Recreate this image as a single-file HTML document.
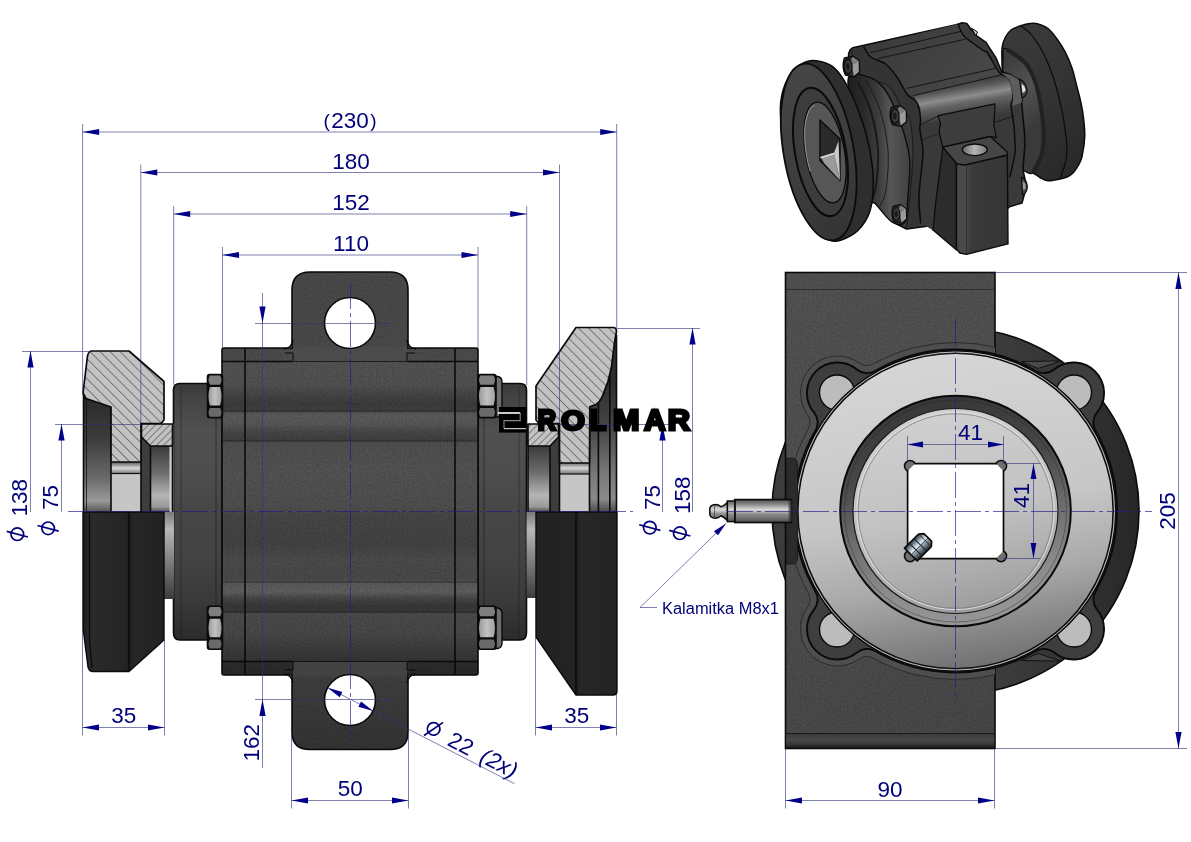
<!DOCTYPE html>
<html><head><meta charset="utf-8"><title>Drawing</title>
<style>
html,body{margin:0;padding:0;background:#fff;}
body{width:1191px;height:842px;overflow:hidden;font-family:"Liberation Sans",sans-serif;}
svg{display:block;opacity:0.9999;}
text{font-family:"Liberation Sans",sans-serif;}
.dt{font-size:22.5px;fill:#00007a;}
.dl{stroke:#30307c;stroke-width:1;fill:none;opacity:.62}
.ah{fill:#000088;stroke:none}
.cl{stroke:#1c1c8c;stroke-width:0.8;fill:none;opacity:.85;stroke-dasharray:26 4 4 4}
.ol{stroke:#0a0a0a;stroke-width:1.6;fill:none;stroke-linejoin:round}
.tl{stroke:#0a0a0a;stroke-width:1;fill:none}
</style></head><body>
<svg width="1191" height="842" viewBox="0 0 1191 842">
<defs>
<linearGradient id="gBody" gradientUnits="userSpaceOnUse" x1="0" y1="348" x2="0" y2="675"><stop offset="0.0" stop-color="#4c4c4c"/><stop offset="0.039755351681957186" stop-color="#4e4e4e"/><stop offset="0.04281345565749235" stop-color="#545454"/><stop offset="0.11314984709480122" stop-color="#525252"/><stop offset="0.1437308868501529" stop-color="#464646"/><stop offset="0.1712538226299694" stop-color="#3c3c3c"/><stop offset="0.18960244648318042" stop-color="#404040"/><stop offset="0.2018348623853211" stop-color="#5c5c5c"/><stop offset="0.2324159021406728" stop-color="#585858"/><stop offset="0.25688073394495414" stop-color="#484848"/><stop offset="0.28134556574923547" stop-color="#404040"/><stop offset="0.2874617737003058" stop-color="#505050"/><stop offset="0.3730886850152905" stop-color="#545454"/><stop offset="0.48623853211009177" stop-color="#505050"/><stop offset="0.5107033639143731" stop-color="#474747"/><stop offset="0.6024464831804281" stop-color="#444444"/><stop offset="0.6483180428134556" stop-color="#4c4c4c"/><stop offset="0.7064220183486238" stop-color="#4a4a4a"/><stop offset="0.7186544342507645" stop-color="#5a5a5a"/><stop offset="0.746177370030581" stop-color="#606060"/><stop offset="0.764525993883792" stop-color="#484848"/><stop offset="0.7889908256880734" stop-color="#383838"/><stop offset="0.8042813455657493" stop-color="#3a3a3a"/><stop offset="0.8134556574923547" stop-color="#4c4c4c"/><stop offset="0.8776758409785933" stop-color="#484848"/><stop offset="0.9235474006116208" stop-color="#3c3c3c"/><stop offset="0.9541284403669725" stop-color="#363636"/><stop offset="0.9587155963302753" stop-color="#2e2e2e"/><stop offset="1.0" stop-color="#292929"/></linearGradient>
<linearGradient id="gCap" gradientUnits="userSpaceOnUse" x1="0" y1="383" x2="0" y2="640"><stop offset="0.0" stop-color="#3a3a3a"/><stop offset="0.06614785992217899" stop-color="#444444"/><stop offset="0.1828793774319066" stop-color="#505050"/><stop offset="0.33852140077821014" stop-color="#4e4e4e"/><stop offset="0.5019455252918288" stop-color="#464646"/><stop offset="0.688715953307393" stop-color="#434343"/><stop offset="0.8443579766536965" stop-color="#3a3a3a"/><stop offset="1.0" stop-color="#2b2b2b"/></linearGradient>
<linearGradient id="gLug" gradientUnits="userSpaceOnUse" x1="0" y1="272" x2="0" y2="360"><stop offset="0" stop-color="#4a4a4a"/><stop offset="1" stop-color="#4b4b4b"/></linearGradient>
<linearGradient id="gLugB" gradientUnits="userSpaceOnUse" x1="0" y1="662" x2="0" y2="750"><stop offset="0" stop-color="#424242"/><stop offset="1" stop-color="#343434"/></linearGradient>
<linearGradient id="gWheelLowL" gradientUnits="userSpaceOnUse" x1="83" y1="0" x2="164" y2="0"><stop offset="0" stop-color="#1c1c1c"/><stop offset="0.08" stop-color="#2a2a2a"/><stop offset="0.5" stop-color="#252525"/><stop offset="0.57" stop-color="#1d1d1d"/><stop offset="0.62" stop-color="#262626"/><stop offset="1" stop-color="#222222"/></linearGradient>
<linearGradient id="gWheelLowR" gradientUnits="userSpaceOnUse" x1="536" y1="0" x2="617" y2="0"><stop offset="0" stop-color="#222222"/><stop offset="0.47" stop-color="#242424"/><stop offset="0.5" stop-color="#1b1b1b"/><stop offset="0.54" stop-color="#272727"/><stop offset="1" stop-color="#232323"/></linearGradient>
<linearGradient id="gInnerL" gradientUnits="userSpaceOnUse" x1="0" y1="399" x2="0" y2="512"><stop offset="0" stop-color="#2b2b2b"/><stop offset="0.35" stop-color="#3c3c3c"/><stop offset="0.7" stop-color="#6a6a6a"/><stop offset="0.9" stop-color="#9a9a9a"/><stop offset="1" stop-color="#555555"/></linearGradient>
<linearGradient id="gBush" gradientUnits="userSpaceOnUse" x1="0" y1="446" x2="0" y2="512"><stop offset="0" stop-color="#3a3a3a"/><stop offset="0.4" stop-color="#6c6c6c"/><stop offset="0.75" stop-color="#b5b5b5"/><stop offset="0.92" stop-color="#9a9a9a"/><stop offset="1" stop-color="#4a4a4a"/></linearGradient>
<linearGradient id="gGroove" gradientUnits="userSpaceOnUse" x1="0" y1="462" x2="0" y2="474"><stop offset="0" stop-color="#555555"/><stop offset="0.5" stop-color="#d8d8d8"/><stop offset="1" stop-color="#777777"/></linearGradient>
<linearGradient id="gShaftLow" gradientUnits="userSpaceOnUse" x1="0" y1="512" x2="0" y2="599"><stop offset="0" stop-color="#7a7a7a"/><stop offset="0.2" stop-color="#b8b8b8"/><stop offset="0.5" stop-color="#888888"/><stop offset="1" stop-color="#3a3a3a"/></linearGradient>
<linearGradient id="gNut" gradientUnits="objectBoundingBox" x1="0" y1="0" x2="1" y2="0"><stop offset="0" stop-color="#9a9a9a"/><stop offset="0.5" stop-color="#c2c2c2"/><stop offset="1" stop-color="#a0a0a0"/></linearGradient>
<linearGradient id="gNutV" gradientUnits="objectBoundingBox" x1="0" y1="0" x2="0" y2="1"><stop offset="0" stop-color="#7b7b7b"/><stop offset="0.25" stop-color="#8a8a8a"/><stop offset="0.5" stop-color="#b4b4b4"/><stop offset="0.8" stop-color="#8a8a8a"/><stop offset="1" stop-color="#666666"/></linearGradient>
<pattern id="hatchA" patternUnits="userSpaceOnUse" width="7.1" height="7.1" patternTransform="rotate(45)"><rect width="7.1" height="7.1" fill="#c2c2c2"/><line x1="0" y1="0" x2="7.1" y2="0" stroke="#1a1a1a" stroke-width="0.9"/></pattern>
<pattern id="hatchB" patternUnits="userSpaceOnUse" width="5" height="5" patternTransform="rotate(-45)"><rect width="5" height="5" fill="#c2c2c2"/><line x1="0" y1="0" x2="5" y2="0" stroke="#1a1a1a" stroke-width="0.9"/></pattern>
<filter id="grain" x="0" y="0" width="100%" height="100%"><feTurbulence type="fractalNoise" baseFrequency="0.55" numOctaves="2" seed="3" result="n"/><feColorMatrix in="n" type="matrix" values="0 0 0 0 0  0 0 0 0 0  0 0 0 0 0  0.5 0.5 0 0 -0.38" result="a"/><feComposite in="a" in2="SourceGraphic" operator="in"/></filter>
<linearGradient id="gInnerR" gradientUnits="userSpaceOnUse" x1="0" y1="380" x2="0" y2="512"><stop offset="0" stop-color="#2e2e2e"/><stop offset="0.35" stop-color="#444444"/><stop offset="0.7" stop-color="#777777"/><stop offset="0.9" stop-color="#8a8a8a"/><stop offset="1" stop-color="#4a4a4a"/></linearGradient>
<linearGradient id="gPlate" gradientUnits="userSpaceOnUse" x1="786" y1="272" x2="996" y2="749"><stop offset="0" stop-color="#545454"/><stop offset="0.5" stop-color="#505050"/><stop offset="1" stop-color="#484848"/></linearGradient>
<linearGradient id="gRing" gradientUnits="userSpaceOnUse" x1="930" y1="353" x2="982" y2="668"><stop offset="0" stop-color="#d6d6d6"/><stop offset="0.5" stop-color="#c6c6c6"/><stop offset="0.72" stop-color="#aaaaaa"/><stop offset="0.88" stop-color="#888888"/><stop offset="1" stop-color="#707070"/></linearGradient>
<linearGradient id="gDisc" gradientUnits="userSpaceOnUse" x1="930" y1="410" x2="975" y2="615"><stop offset="0" stop-color="#d0d0d0"/><stop offset="0.5" stop-color="#c2c2c2"/><stop offset="0.8" stop-color="#acacac"/><stop offset="1" stop-color="#9a9a9a"/></linearGradient>
<linearGradient id="gBand" gradientUnits="userSpaceOnUse" x1="935" y1="395" x2="978" y2="627"><stop offset="0" stop-color="#363636"/><stop offset="0.3" stop-color="#474747"/><stop offset="0.55" stop-color="#6c6c6c"/><stop offset="0.8" stop-color="#8c8c8c"/><stop offset="1" stop-color="#979797"/></linearGradient>
<linearGradient id="gBigWheel" gradientUnits="userSpaceOnUse" x1="996" y1="0" x2="1140" y2="0"><stop offset="0" stop-color="#3c3c3c"/><stop offset="0.6" stop-color="#323232"/><stop offset="1" stop-color="#262626"/></linearGradient>
<linearGradient id="gNipple" gradientUnits="userSpaceOnUse" x1="0" y1="500" x2="0" y2="522.5"><stop offset="0" stop-color="#555555"/><stop offset="0.2" stop-color="#8a8a8a"/><stop offset="0.42" stop-color="#d6d6d6"/><stop offset="0.5" stop-color="#c0c0c0"/><stop offset="0.62" stop-color="#8e8e8e"/><stop offset="0.85" stop-color="#6a6a6a"/><stop offset="1" stop-color="#484848"/></linearGradient>
<linearGradient id="gStrip" gradientUnits="userSpaceOnUse" x1="0" y1="733.5" x2="0" y2="748.5"><stop offset="0" stop-color="#3a3a3a"/><stop offset="0.45" stop-color="#484848"/><stop offset="0.75" stop-color="#333333"/><stop offset="1" stop-color="#141414"/></linearGradient>
<linearGradient id="gScrew" gradientUnits="objectBoundingBox" x1="0" y1="0" x2="0" y2="1"><stop offset="0" stop-color="#2c3238"/><stop offset="0.2" stop-color="#7f8d99"/><stop offset="0.42" stop-color="#dfe8ef"/><stop offset="0.6" stop-color="#93a3b0"/><stop offset="0.85" stop-color="#4a545d"/><stop offset="1" stop-color="#22272c"/></linearGradient>
<linearGradient id="iBW" gradientUnits="userSpaceOnUse" x1="1000" y1="40" x2="1085" y2="150"><stop offset="0" stop-color="#3a3a3a"/><stop offset="0.5" stop-color="#343434"/><stop offset="1" stop-color="#2a2a2a"/></linearGradient>
<linearGradient id="iTop" gradientUnits="userSpaceOnUse" x1="870" y1="30" x2="960" y2="110"><stop offset="0" stop-color="#3a3a3a"/><stop offset="0.6" stop-color="#424242"/><stop offset="1" stop-color="#484848"/></linearGradient>
<linearGradient id="iSide" gradientUnits="userSpaceOnUse" x1="957" y1="84.6" x2="963" y2="120"><stop offset="0" stop-color="#444444"/><stop offset="0.15" stop-color="#5c5c5c"/><stop offset="0.37" stop-color="#8c8c8c"/><stop offset="0.55" stop-color="#646464"/><stop offset="0.8" stop-color="#4a4a4a"/><stop offset="1" stop-color="#3c3c3c"/></linearGradient>
<linearGradient id="iHub" gradientUnits="userSpaceOnUse" x1="850" y1="0" x2="915" y2="0"><stop offset="0" stop-color="#1f1f1f"/><stop offset="0.25" stop-color="#2c2c2c"/><stop offset="0.45" stop-color="#3e3e3e"/><stop offset="0.62" stop-color="#565656"/><stop offset="0.8" stop-color="#4a4a4a"/><stop offset="1" stop-color="#3a3a3a"/></linearGradient>
<linearGradient id="iFace" gradientUnits="userSpaceOnUse" x1="785" y1="80" x2="860" y2="230"><stop offset="0" stop-color="#454545"/><stop offset="0.5" stop-color="#3e3e3e"/><stop offset="1" stop-color="#333333"/></linearGradient>
<linearGradient id="iBlockF" gradientUnits="userSpaceOnUse" x1="966" y1="0" x2="1008" y2="0"><stop offset="0" stop-color="#4a4a4a"/><stop offset="0.12" stop-color="#3a3a3a"/><stop offset="1" stop-color="#353535"/></linearGradient>
<linearGradient id="iHole" gradientUnits="userSpaceOnUse" x1="962" y1="0" x2="987" y2="0"><stop offset="0" stop-color="#6a6a6a"/><stop offset="0.5" stop-color="#b5b5b5"/><stop offset="1" stop-color="#7a7a7a"/></linearGradient>
<linearGradient id="iBHub" gradientUnits="userSpaceOnUse" x1="1000" y1="60" x2="1045" y2="120"><stop offset="0" stop-color="#3c3c3c"/><stop offset="0.5" stop-color="#525252"/><stop offset="1" stop-color="#3a3a3a"/></linearGradient>

</defs>
<rect width="1191" height="842" fill="#ffffff"/>
<g id="main">
<path d="M292,349 L292,290 Q292,272 310,272 L390,272 Q408,272 408,290 L408,349 L408,362 L292,362 Z" fill="url(#gLug)" class="" stroke="#0a0a0a" stroke-width="1.6"/>
<path d="M292,674 L292,732 Q292,749.5 310,749.5 L390,749.5 Q408,749.5 408,732 L408,674 L408,660 L292,660 Z" fill="url(#gLugB)" class="" stroke="#0a0a0a" stroke-width="1.6"/>
<clipPath id="clipLugs"><path d="M292,349 L292,290 Q292,272 310,272 L390,272 Q408,272 408,290 L408,349 Z"/><path d="M292,674 L292,732 Q292,749.5 310,749.5 L390,749.5 Q408,749.5 408,732 L408,674 Z"/></clipPath>
<rect x="290" y="270" width="120" height="482" fill="#000" filter="url(#grain)" opacity=".4" clip-path="url(#clipLugs)"/>
<path d="M222,383.5 L180,383.5 Q173.5,383.5 173.5,390 L173.5,633 Q173.5,640 180,640 L222,640 Z" fill="url(#gCap)" stroke="#0a0a0a" stroke-width="1.6"/>
<path d="M478,383.5 L520,383.5 Q526.5,383.5 526.5,390 L526.5,633 Q526.5,640 520,640 L478,640 Z" fill="url(#gCap)" stroke="#0a0a0a" stroke-width="1.6"/>
<line x1="181" y1="386" x2="181" y2="638" stroke="#111" stroke-width="1" opacity="0.35"/>
<line x1="216" y1="386" x2="216" y2="638" stroke="#111" stroke-width="1" opacity="0.5"/>
<line x1="519" y1="386" x2="519" y2="638" stroke="#111" stroke-width="1" opacity="0.35"/>
<line x1="484" y1="386" x2="484" y2="638" stroke="#111" stroke-width="1" opacity="0.5"/>
<rect x="222" y="348" width="256" height="327" rx="2" fill="url(#gBody)" stroke="#0a0a0a" stroke-width="1.6"/>
<rect x="222" y="348" width="256" height="327" fill="#000" filter="url(#grain)" opacity=".45"/>
<path d="M293,346.5 L407,346.5 L407,361 L293,361 Z" fill="#4b4b4b"/>
<path d="M293,662 L407,662 L407,676.5 L293,676.5 Z" fill="#424242"/>
<path class="ol" d="M222,361.5 L292,361.5 M408,361.5 L478,361.5"/>
<path class="tl" d="M292,361.5 L408,361.5" opacity=".7"/>
<path class="ol" d="M222,661.5 L292,661.5 M408,661.5 L478,661.5"/>
<path class="tl" d="M292,661.5 L408,661.5" opacity=".7"/>
<path class="ol" d="M284,349 Q292,348 293,340 M416,349 Q408,348 407,340" stroke-width="1.3"/>
<path class="tl" d="M285,353 L293,353 L293,361 M415,353 L407,353 L407,361"/>
<path class="ol" d="M284,674 Q292,675 293,683 M416,674 Q408,675 407,683" stroke-width="1.3"/>
<path class="tl" d="M285,670 L293,670 L293,662 M415,670 L407,670 L407,662"/>
<path class="ol" d="M245,348 L245,675 M455,348 L455,675" stroke-width="1.8"/>
<line x1="222" y1="411" x2="478" y2="411" stroke="#111" stroke-width="0.9" opacity=".6"/>
<line x1="222" y1="441" x2="478" y2="441" stroke="#111" stroke-width="0.9" opacity=".6"/>
<line x1="222" y1="582" x2="478" y2="582" stroke="#111" stroke-width="0.9" opacity=".6"/>
<line x1="222" y1="612" x2="478" y2="612" stroke="#111" stroke-width="0.9" opacity=".6"/>
<circle cx="350" cy="323" r="25.5" fill="#fff" stroke="#0a0a0a" stroke-width="1.6"/>
<circle cx="350" cy="700" r="25.5" fill="#fff" stroke="#0a0a0a" stroke-width="1.6"/>
<path d="M495,376.5 L498,376.5 Q502,377.5 502,382 L502,412 Q502,416 498,417 L495,417 Z" fill="#6e6e6e" stroke="#0a0a0a" stroke-width="1.4"/>
<path d="M495,608 L498,608 Q502,609 502,613.5 L502,643 Q502,647.5 498,648.5 L495,648.5 Z" fill="#6e6e6e" stroke="#0a0a0a" stroke-width="1.4"/>
<rect x="206.7" y="373.8" width="16.6" height="44.6" rx="3" fill="#0a0a0a"/>
<path d="M209.9,375.4 L220.1,375.4 Q222.9,380.1 220.1,384.7 L209.9,384.7 Q207.1,380.1 209.9,375.4 Z" fill="#7e7e7e"/>
<path d="M209.9,387.1 L220.1,387.1 Q222.9,396.3 220.1,405.6 L209.9,405.6 Q207.1,396.3 209.9,387.1 Z" fill="url(#gNut)"/>
<path d="M209.9,407.9 L220.1,407.9 Q222.9,412.4 220.1,416.8 L209.9,416.8 Q207.1,412.4 209.9,407.9 Z" fill="#6a6a6a"/>
<rect x="477.2" y="373.8" width="19.6" height="44.6" rx="3" fill="#0a0a0a"/>
<path d="M480.4,375.4 L493.6,375.4 Q496.4,380.1 493.6,384.7 L480.4,384.7 Q477.6,380.1 480.4,375.4 Z" fill="#7e7e7e"/>
<path d="M480.4,387.1 L493.6,387.1 Q496.4,396.3 493.6,405.6 L480.4,405.6 Q477.6,396.3 480.4,387.1 Z" fill="url(#gNut)"/>
<path d="M480.4,407.9 L493.6,407.9 Q496.4,412.4 493.6,416.8 L480.4,416.8 Q477.6,412.4 480.4,407.9 Z" fill="#6a6a6a"/>
<rect x="206.7" y="605.4000000000001" width="16.6" height="44.6" rx="3" fill="#0a0a0a"/>
<path d="M209.9,607.0 L220.1,607.0 Q222.9,611.7 220.1,616.3 L209.9,616.3 Q207.1,611.7 209.9,607.0 Z" fill="#7e7e7e"/>
<path d="M209.9,618.7 L220.1,618.7 Q222.9,627.9 220.1,637.2 L209.9,637.2 Q207.1,627.9 209.9,618.7 Z" fill="url(#gNut)"/>
<path d="M209.9,639.5 L220.1,639.5 Q222.9,644.0 220.1,648.4 L209.9,648.4 Q207.1,644.0 209.9,639.5 Z" fill="#6a6a6a"/>
<rect x="477.2" y="605.4000000000001" width="19.6" height="44.6" rx="3" fill="#0a0a0a"/>
<path d="M480.4,607.0 L493.6,607.0 Q496.4,611.7 493.6,616.3 L480.4,616.3 Q477.6,611.7 480.4,607.0 Z" fill="#7e7e7e"/>
<path d="M480.4,618.7 L493.6,618.7 Q496.4,627.9 493.6,637.2 L480.4,637.2 Q477.6,627.9 480.4,618.7 Z" fill="url(#gNut)"/>
<path d="M480.4,639.5 L493.6,639.5 Q496.4,644.0 493.6,648.4 L480.4,648.4 Q477.6,644.0 480.4,639.5 Z" fill="#6a6a6a"/>
<rect x="83" y="397" width="29" height="115" fill="url(#gInnerL)"/>
<rect x="111" y="462" width="30" height="50" fill="#c6c6c6"/>
<rect x="111" y="462" width="30" height="11.5" fill="url(#gGroove)"/>
<line x1="111" y1="473.5" x2="141" y2="473.5" stroke="#111" stroke-width="1.2"/>
<rect x="141" y="438" width="9.5" height="74" fill="#3d3d3d"/>
<rect x="150" y="446" width="22.5" height="66" fill="url(#gBush)"/>
<rect x="169.5" y="424" width="4" height="88" fill="#d0d0d0"/>
<path class="ol" d="M83.5,395 L83.5,512 M111,407 L111,512 M141,424 L141,512 M150.5,446 L150.5,512 M172.5,424 L172.5,512" />
<line x1="86.5" y1="400" x2="86.5" y2="512" stroke="#111" stroke-width="1" opacity=".8"/>
<path d="M92,351 L129,351 L164,381.5 L164,420 L161,423.5 L141,423.5 L141,462 L111,462 L111,407 L86,398.5 L83,393 L87.5,356 Q88.5,351 92,351 Z" fill="url(#hatchA)" stroke="#0a0a0a" stroke-width="1.7" stroke-linejoin="round"/>
<path d="M143,424 L172.5,424 L172.5,446 L150.5,446 L141.5,437 L141.5,425.5 Q141.5,424 143,424 Z" fill="url(#hatchB)" stroke="#0a0a0a" stroke-width="1.6" stroke-linejoin="round"/>
<rect x="164" y="512" width="10" height="87" fill="url(#gShaftLow)"/>
<path d="M83,512 L164,512 L164,640 L129,671.5 L93,671.5 Q89,671.5 88,667 L83,628 Z" fill="url(#gWheelLowL)" stroke="#0a0a0a" stroke-width="1.4" stroke-linejoin="round"/>
<path d="M129,512 L129,671 M89.5,512 L89.5,640 L92,668" stroke="#0a0a0a" stroke-width="1.3" fill="none"/>
<path d="M589.5,407 L602,397 L608,381.8 L611.4,367.5 L614.3,344 L616.5,331 L617,512 L589.5,512 Z" fill="url(#gInnerR)"/>
<rect x="559.5" y="463" width="29.5" height="49" fill="#c6c6c6"/>
<rect x="559.5" y="463" width="29.5" height="11" fill="url(#gGroove)"/>
<line x1="559.5" y1="474" x2="589" y2="474" stroke="#111" stroke-width="1.2"/>
<rect x="550" y="438" width="9.5" height="74" fill="#3d3d3d"/>
<rect x="528" y="446" width="22" height="66" fill="url(#gBush)"/>
<path class="ol" d="M616.5,335 L616.5,512 M589.5,408 L589.5,512 M559.5,424 L559.5,512 M550,446 L550,512 M528,424 L528,512 M598.4,403.5 L598.4,512 M609.8,375 L609.8,512" />
<path d="M576,327.5 L613,327.5 Q616.5,327.5 616.5,331 L614.3,344 L611.4,367.5 L607.9,381.8 L602,397.2 Q600,402 596,404.5 L589.8,406.8 L589.5,463 L559.5,463 L559.5,423.5 L539,423.5 L536,420 L536,386 Z" fill="url(#hatchA)" stroke="#0a0a0a" stroke-width="1.7" stroke-linejoin="round"/>
<path d="M557,424 L528,424 L528,446 L550,446 L558.5,437 L558.5,425.5 Q558.5,424 557,424 Z" fill="url(#hatchB)" stroke="#0a0a0a" stroke-width="1.6" stroke-linejoin="round"/>
<rect x="526.5" y="512" width="10" height="86" fill="url(#gShaftLow)"/>
<path d="M536,512 L617,512 L617,691 Q617,695 613,695 L576,695 L536,637 Z" fill="url(#gWheelLowR)" stroke="#0a0a0a" stroke-width="1.4" stroke-linejoin="round"/>
<path d="M576,512 L576,695" stroke="#0a0a0a" stroke-width="1.3" fill="none"/>
</g>

<g id="side">
<circle cx="955.5" cy="511.0" r="183.5" fill="url(#gBigWheel)" stroke="#0a0a0a" stroke-width="1.6"/>
<rect x="785.5" y="272.5" width="209.5" height="476" fill="url(#gPlate)" stroke="#0a0a0a" stroke-width="1.6"/>
<rect x="785.5" y="272.5" width="209.5" height="476" fill="#000" filter="url(#grain)" opacity=".45"/>
<rect x="786.3" y="273.3" width="207.9" height="16" fill="#444" opacity=".2"/>
<line x1="786" y1="289.5" x2="995" y2="289.5" stroke="#222" stroke-width="1" opacity=".7"/>
<rect x="786.3" y="733.5" width="207.9" height="14.6" fill="url(#gStrip)"/>
<line x1="786" y1="733.5" x2="995" y2="733.5" stroke="#111" stroke-width="1" opacity=".8"/>
<clipPath id="clipPlate"><rect x="785.5" y="272.5" width="209.5" height="476"/></clipPath>
<path d="M1102.86,592.71 A14.00,14.00 0 0 0 1103.68,607.60 A37.00,37.00 0 0 1 1052.10,659.18 A14.00,14.00 0 0 0 1037.21,658.36 A168.50,168.50 0 0 1 873.79,658.36 A14.00,14.00 0 0 0 858.90,659.18 A37.00,37.00 0 0 1 807.32,607.60 A14.00,14.00 0 0 0 808.14,592.71 A168.50,168.50 0 0 1 808.14,429.29 A14.00,14.00 0 0 0 807.32,414.40 A37.00,37.00 0 0 1 858.90,362.82 A14.00,14.00 0 0 0 873.79,363.64 A168.50,168.50 0 0 1 1037.21,363.64 A14.00,14.00 0 0 0 1052.10,362.82 A37.00,37.00 0 0 1 1103.68,414.40 A14.00,14.00 0 0 0 1102.86,429.29 A168.50,168.50 0 0 1 1102.86,592.71 Z" fill="#4e4e4e" stroke="#2c2c2c" stroke-width="1" clip-path="url(#clipPlate)"/>
<path d="M1021.6,361.6 L1061.5,360.8 L1038,368.5 Z" fill="#4a4a4a" stroke="#111" stroke-width="1"/>
<path d="M1021.6,660.4 L1061.5,661.2 L1038,653.5 Z" fill="#444" stroke="#111" stroke-width="1"/>
<path d="M1095.52,591.47 A16.00,16.00 0 0 0 1097.05,609.61 A30.50,30.50 0 0 1 1054.11,652.55 A16.00,16.00 0 0 0 1035.97,651.02 A161.50,161.50 0 0 1 875.03,651.02 A16.00,16.00 0 0 0 856.89,652.55 A30.50,30.50 0 0 1 813.95,609.61 A16.00,16.00 0 0 0 815.48,591.47 A161.50,161.50 0 0 1 815.48,430.53 A16.00,16.00 0 0 0 813.95,412.39 A30.50,30.50 0 0 1 856.89,369.45 A16.00,16.00 0 0 0 875.03,370.98 A161.50,161.50 0 0 1 1035.97,370.98 A16.00,16.00 0 0 0 1054.11,369.45 A30.50,30.50 0 0 1 1097.05,412.39 A16.00,16.00 0 0 0 1095.52,430.53 A161.50,161.50 0 0 1 1095.52,591.47 Z" fill="#3e3e3e" stroke="#0a0a0a" stroke-width="1.9"/>
<circle cx="837.0" cy="392.5" r="17.5" fill="#bcbcbc" stroke="#0a0a0a" stroke-width="1.4"/>
<circle cx="837.0" cy="629.5" r="17.5" fill="#bcbcbc" stroke="#0a0a0a" stroke-width="1.4"/>
<circle cx="1074.0" cy="392.5" r="17.5" fill="#bcbcbc" stroke="#0a0a0a" stroke-width="1.4"/>
<circle cx="1074.0" cy="629.5" r="17.5" fill="#bcbcbc" stroke="#0a0a0a" stroke-width="1.4"/>
<circle cx="955.5" cy="511.0" r="160" fill="#2a2a2a" stroke="#0a0a0a" stroke-width="1.5"/>
<circle cx="955.5" cy="511.0" r="157.5" fill="url(#gRing)" stroke="#0a0a0a" stroke-width="1.2"/>
<circle cx="955.5" cy="511.0" r="159" fill="none" stroke="#e8e8e8" stroke-width="0.8"/>
<circle cx="955.5" cy="511.0" r="115.3" fill="url(#gBand)" stroke="#0a0a0a" stroke-width="2"/>
<circle cx="955.5" cy="511.0" r="111" fill="none" stroke="#222" stroke-width="0.8" opacity=".5"/>
<circle cx="955.5" cy="511.0" r="102.5" fill="url(#gDisc)" stroke="#1a1a1a" stroke-width="1.2"/>
<circle cx="955.5" cy="511.0" r="98.6" fill="none" stroke="#e4e4e4" stroke-width="0.9"/>
<circle cx="955.5" cy="511.0" r="97.3" fill="none" stroke="#777" stroke-width="0.7"/>
<circle cx="910.1" cy="466.1" r="5.6" fill="#707070" stroke="#0a0a0a" stroke-width="1.5"/>
<circle cx="1001.0" cy="466.1" r="5.6" fill="#707070" stroke="#0a0a0a" stroke-width="1.5"/>
<circle cx="910.1" cy="556.1" r="5.6" fill="#707070" stroke="#0a0a0a" stroke-width="1.5"/>
<circle cx="1001.0" cy="556.1" r="5.6" fill="#707070" stroke="#0a0a0a" stroke-width="1.5"/>
<path d="M915.1,463.6 L996.0,463.6 L1003.5,471.1 L1003.5,551.1 L996.0,558.6 L915.1,558.6 L907.6,551.1 L907.6,471.1 Z" fill="#fff" stroke="none"/>
<path d="M914.1,463.6 L997.0,463.6 M1003.5,470.1 L1003.5,552.1 M997.0,558.6 L914.1,558.6 M907.6,552.1 L907.6,470.1" stroke="#0a0a0a" stroke-width="1.7" fill="none"/>
<g transform="translate(919.3,546) rotate(-45)"><path d="M-12,-9 L8,-9 L12,-5.5 L12,5.5 L8,9 L-12,9 Z" fill="url(#gScrew)" stroke="#0a0a0a" stroke-width="1.6" stroke-linejoin="round"/><line x1="-5" y1="-8.5" x2="-5" y2="8.5" stroke="#1e2226" stroke-width="1"/><line x1="1.5" y1="-8.5" x2="1.5" y2="8.5" stroke="#1e2226" stroke-width="1"/><line x1="8" y1="-8.5" x2="8" y2="8.5" stroke="#1e2226" stroke-width="0.9"/><line x1="-12" y1="0.5" x2="12" y2="0.5" stroke="#39424a" stroke-width="0.8"/></g>
<path d="M786.8,458 L793,458 Q797.5,459 797.5,464 L797.5,558 Q797.5,563 793,564 L786.8,564 Z" fill="#2b2b2b" stroke="#161616" stroke-width="0.8"/>
<rect x="734.8" y="499.6" width="56.5" height="22.9" fill="url(#gNipple)" stroke="#0a0a0a" stroke-width="1.7"/>
<rect x="788.5" y="500.4" width="3.5" height="21.3" fill="#333" opacity=".6"/>
<rect x="727.3" y="501" width="7.5" height="20.6" fill="url(#gNipple)" stroke="#0a0a0a" stroke-width="1.5"/>
<path d="M727.3,502.5 Q724,506 721,506.8 Q718.5,504.6 715.5,504.6 Q710,505 709.8,509 L709.8,514 Q710,518 715.5,518.2 Q718.5,518.2 721,515.8 Q724,517 727.3,520.5 Z" fill="url(#gNipple)" stroke="#0a0a0a" stroke-width="1.5" stroke-linejoin="round"/>
<line x1="714.5" y1="505" x2="714.5" y2="518" stroke="#333" stroke-width="0.9" opacity=".7"/>
</g>

<g id="iso">
<path d="M1002.0,62.0 C1001.9,54.8 1001.6,51.2 1002.2,47.0 C1002.8,42.8 1004.0,39.8 1005.5,37.0 C1007.0,34.2 1008.3,31.9 1011.0,30.0 C1013.7,28.1 1018.5,26.5 1021.7,25.4 C1024.9,24.3 1027.5,23.8 1030.0,23.5 C1032.5,23.2 1034.0,22.8 1037.0,23.6 C1040.0,24.4 1044.7,25.9 1048.0,28.5 C1051.3,31.1 1054.2,35.1 1057.0,39.0 C1059.8,42.9 1062.5,46.9 1065.0,51.7 C1067.5,56.5 1070.0,62.1 1072.0,68.0 C1074.0,73.9 1075.5,81.2 1077.0,87.0 C1078.5,92.8 1079.9,97.8 1081.0,103.0 C1082.1,108.2 1082.9,112.4 1083.5,118.0 C1084.1,123.6 1085.0,130.2 1084.7,136.6 C1084.5,143.0 1083.1,151.7 1082.0,156.6 C1080.9,161.5 1079.5,163.3 1078.0,166.0 C1076.5,168.7 1074.8,171.2 1073.0,173.0 C1071.2,174.8 1069.2,176.0 1067.0,177.0 C1064.8,178.0 1063.0,178.4 1059.8,179.0 C1056.6,179.6 1051.3,180.9 1048.0,180.7 C1044.7,180.4 1042.5,178.8 1040.0,177.5 C1037.5,176.2 1035.8,174.2 1033.0,173.0 C1030.2,171.8 1026.8,171.3 1023.0,170.0 C1019.2,168.7 1013.2,171.7 1010.0,165.0 C1006.8,158.3 1005.2,142.5 1004.0,130.0 C1002.8,117.5 1003.3,101.3 1003.0,90.0 C1002.7,78.7 1002.1,69.2 1002.0,62.0 Z" fill="url(#iBW)" stroke="#0a0a0a" stroke-width="1.5" stroke-linejoin="round" stroke-linecap="round" />
<path d="M1021.7,26.2 C1023.5,27.8 1028.4,30.5 1032.5,36.0 C1036.6,41.5 1042.0,49.3 1046.4,59.4 C1050.8,69.5 1055.5,83.0 1058.8,96.4 C1062.1,109.8 1065.3,129.4 1066.5,140.0 C1067.7,150.6 1067.1,153.5 1066.0,160.0 C1064.9,166.5 1061.0,175.8 1060.0,179.0" fill="none" stroke="#0a0a0a" stroke-width="1.2" stroke-linejoin="round" stroke-linecap="round" />
<path d="M1003.0,58.0 C1003.2,47.8 1001.9,48.0 1005.5,48.5 C1009.1,49.0 1019.8,55.1 1024.8,61.0 C1029.8,66.9 1032.6,74.5 1035.6,84.0 C1038.6,93.5 1041.5,108.7 1043.0,118.0 C1044.5,127.3 1044.7,133.7 1044.5,140.0 C1044.3,146.3 1043.9,150.5 1042.0,156.0 C1040.1,161.5 1036.2,170.7 1033.0,173.0 C1029.8,175.3 1026.5,171.8 1023.0,170.0 C1019.5,168.2 1015.2,172.0 1012.0,162.0 C1008.8,152.0 1005.5,127.3 1004.0,110.0 C1002.5,92.7 1002.8,68.2 1003.0,58.0 Z" fill="url(#iBHub)" stroke="#0a0a0a" stroke-width="1.2" stroke-linejoin="round" stroke-linecap="round" />
<path d="M1008.0,50.0 C1011.0,52.3 1021.2,58.0 1026.0,64.0 C1030.8,70.0 1033.8,77.0 1036.5,86.0 C1039.2,95.0 1041.3,109.0 1042.5,118.0 C1043.7,127.0 1043.8,133.7 1043.5,140.0 C1043.2,146.3 1042.7,150.8 1041.0,156.0 C1039.3,161.2 1034.8,168.5 1033.5,171.0" fill="none" stroke="#222222" stroke-width="4" stroke-linejoin="round" stroke-linecap="round" />
<path d="M848.5,54.0 L850.0,50.0 L852.8,47.7 L958.2,24.2 L962.0,22.8 L966.8,23.5 L971.6,30.0 L977.0,36.0 L986.0,42.4 L996.0,57.8 L1001.7,71.7 L1011.0,74.8 L1018.6,79.4 L1024.8,87.0 L1023.0,96.0 L1021.7,102.6 L1023.0,118.0 L1024.5,133.0 L1024.8,145.0 L1023.0,170.0 L1026.5,186.5 L1022.0,203.0 L1010.0,206.5 L1000.0,215.0 L960.0,235.0 L933.0,230.0 L930.7,225.7 L906.5,229.0 L891.6,221.5 L875.8,204.0 L870.0,190.0 L860.0,120.0 L850.0,80.0 Z" fill="#3a3a3a" stroke="#0a0a0a" stroke-width="1.5" stroke-linejoin="round" stroke-linecap="round" />
<path d="M864.0,47.0 L958.0,24.0 L961.0,31.0 L965.0,37.0 L982.5,50.0 L1000.0,72.7 L1009.0,79.4 L1001.7,74.8 L914.0,95.5 L907.0,94.0 L897.0,77.0 L885.6,64.0 L870.6,57.0 Z" fill="url(#iTop)" stroke="none" stroke-width="1.3" stroke-linejoin="round" stroke-linecap="round" />
<path d="M914.0,95.5 L1001.7,74.8 L1009.0,79.4 L1013.0,96.4 L1011.0,105.7 L1014.0,125.7 L1014.8,140.0 L1015.0,153.0 L1010.0,176.5 L1008.0,206.0 L933.0,230.0 L920.7,223.0 L919.0,195.0 L923.0,153.0 L919.9,120.0 L920.5,108.0 L917.0,102.6 Z" fill="url(#iSide)" stroke="none" stroke-width="1.3" stroke-linejoin="round" stroke-linecap="round" />
<path d="M919.9,124.0 L1014.0,112.0 L1015.0,153.0 L1010.0,176.5 L1008.0,206.0 L933.0,230.0 L920.7,223.0 L919.0,195.0 L923.0,153.0 Z" fill="#393939" stroke="none" stroke-width="1.3" stroke-linejoin="round" stroke-linecap="round" />
<path d="M920.0,125.0 L938.0,116.3" fill="none" stroke="#1a1a1a" stroke-width="1.0" stroke-linejoin="round" stroke-linecap="round" />
<path d="M995.0,122.3 L1014.0,116.0" fill="none" stroke="#1a1a1a" stroke-width="1.0" stroke-linejoin="round" stroke-linecap="round" />
<path d="M921.0,140.0 L938.0,134.0" fill="none" stroke="#222" stroke-width="0.9" stroke-linejoin="round" stroke-linecap="round" />
<path d="M938.0,115.7 L995.0,103.8 L994.5,114.0 L993.8,124.6 L995.0,131.0 L996.2,137.7 L990.3,136.5 L942.8,147.2 L941.0,140.0 L939.0,131.0 L940.5,124.0 Z" fill="#3d3d3d" stroke="#0a0a0a" stroke-width="1.2" stroke-linejoin="round" stroke-linecap="round" />
<path d="M870.0,52.7 L961.0,31.4" fill="none" stroke="#151515" stroke-width="1.0" stroke-linejoin="round" stroke-linecap="round" />
<path d="M878.5,58.4 L965.4,39.2" fill="none" stroke="#151515" stroke-width="1.0" stroke-linejoin="round" stroke-linecap="round" />
<path d="M907.0,88.3 L995.3,68.4" fill="none" stroke="#151515" stroke-width="1.0" stroke-linejoin="round" stroke-linecap="round" />
<path d="M914.0,95.5 L1001.7,74.8" fill="none" stroke="#151515" stroke-width="1.0" stroke-linejoin="round" stroke-linecap="round" />
<path d="M864.0,47.0 L870.6,57.0 L885.6,64.0 L897.0,77.0 L907.0,94.0 L917.0,102.6 L920.5,118.0 L919.9,130.0 L923.0,153.0 L919.0,195.0 L920.7,223.0 L906.5,228.0 L910.0,195.0 L913.0,153.0 L910.0,120.0 L902.7,110.0 L888.0,85.5 L861.0,78.0 L853.0,62.0 L852.0,50.0 Z" fill="#343434" stroke="none" stroke-width="1.3" stroke-linejoin="round" stroke-linecap="round" />
<path d="M864.0,47.0 C865.1,48.7 867.0,54.2 870.6,57.0 C874.2,59.8 881.2,60.7 885.6,64.0 C890.0,67.3 893.4,72.0 897.0,77.0 C900.6,82.0 903.7,89.7 907.0,94.0 C910.3,98.3 914.8,98.6 917.0,102.6 C919.2,106.6 920.0,113.4 920.5,118.0 C921.0,122.6 919.5,124.2 919.9,130.0 C920.3,135.8 923.1,142.2 923.0,153.0 C922.9,163.8 919.4,183.3 919.0,195.0 C918.6,206.7 920.4,218.3 920.7,223.0" fill="none" stroke="#0a0a0a" stroke-width="1.5" stroke-linejoin="round" stroke-linecap="round" />
<path d="M852.0,50.0 C852.2,52.0 851.5,57.3 853.0,62.0 C854.5,66.7 855.2,74.1 861.0,78.0 C866.8,81.9 881.0,80.2 888.0,85.5 C895.0,90.8 899.0,104.2 902.7,110.0 C906.4,115.8 908.3,112.8 910.0,120.0 C911.7,127.2 913.0,140.5 913.0,153.0 C913.0,165.5 911.1,182.5 910.0,195.0 C908.9,207.5 907.1,222.5 906.5,228.0" fill="none" stroke="#1a1a1a" stroke-width="1.0" stroke-linejoin="round" stroke-linecap="round" />
<path d="M958.0,24.0 C958.5,25.2 959.8,28.8 961.0,31.0 C962.2,33.2 961.4,33.8 965.0,37.0 C968.6,40.2 978.7,47.3 982.5,50.0 C986.3,52.7 985.1,49.4 987.8,53.0 C990.5,56.6 995.1,67.3 998.6,71.7 C1002.1,76.1 1006.6,75.3 1009.0,79.4 C1011.4,83.5 1012.7,92.0 1013.0,96.4 C1013.3,100.8 1010.8,100.8 1011.0,105.7 C1011.2,110.6 1013.4,120.0 1014.0,125.7 C1014.6,131.4 1014.6,135.4 1014.8,140.0 C1015.0,144.6 1015.8,146.9 1015.0,153.0 C1014.2,159.1 1010.8,172.6 1010.0,176.5" fill="none" stroke="#0a0a0a" stroke-width="1.4" stroke-linejoin="round" stroke-linecap="round" />
<path d="M1002.0,73.0 L1011.0,74.8 L1018.6,79.4 L1024.8,87.0 L1021.7,102.6 L1012.5,106.0 L1013.0,96.4 L1009.0,80.0 Z" fill="#6a6a6a" stroke="none" stroke-width="1.3" stroke-linejoin="round" stroke-linecap="round" opacity=".75"/>
<path d="M943.0,146.6 L956.5,164.0 L956.5,250.0 L933.0,230.0 L936.0,200.0 Z" fill="#2c2c2c" stroke="#0a0a0a" stroke-width="1.2" stroke-linejoin="round" stroke-linecap="round" />
<path d="M956.5,164.0 L1007.4,155.0 L1008.0,243.9 L966.5,254.4 L959.8,253.0 L956.5,249.0 Z" fill="url(#iBlockF)" stroke="#0a0a0a" stroke-width="1.4" stroke-linejoin="round" stroke-linecap="round" />
<path d="M942.8,147.2 L990.3,136.5 L1007.0,151.8 L1007.4,155.0 L965.0,165.0 L957.0,164.0 Z" fill="#464646" stroke="#0a0a0a" stroke-width="1.3" stroke-linejoin="round" stroke-linecap="round" />
<ellipse cx="974.8" cy="149.8" rx="12.5" ry="5.8" fill="url(#iHole)" stroke="#0a0a0a" stroke-width="1.3"/>
<path d="M966.5,166.0 L966.5,253.0" fill="none" stroke="#2a2a2a" stroke-width="0.8" stroke-linejoin="round" stroke-linecap="round" />
<path d="M848.0,80.0 C849.3,67.8 862.7,76.1 868.0,76.8 C873.3,77.5 876.5,80.8 880.0,84.0 C883.5,87.2 885.4,89.5 888.8,96.0 C892.2,102.5 897.1,112.4 900.6,122.8 C904.1,133.2 908.4,146.5 909.6,158.5 C910.8,170.5 908.8,184.4 908.0,195.0 C907.2,205.6 907.7,217.6 905.0,222.0 C902.3,226.4 896.5,224.5 891.6,221.5 C886.7,218.5 879.4,207.9 875.8,204.0 C872.2,200.1 872.6,207.0 870.0,198.0 C867.4,189.0 863.7,169.7 860.0,150.0 C856.3,130.3 846.7,92.2 848.0,80.0 Z" fill="url(#iHub)" stroke="#0a0a0a" stroke-width="1.3" stroke-linejoin="round" stroke-linecap="round" />
<path d="M866.0,80.0 C868.3,85.0 876.3,98.3 880.0,110.0 C883.7,121.7 887.0,136.7 888.0,150.0 C889.0,163.3 887.3,180.7 886.0,190.0 C884.7,199.3 881.0,203.3 880.0,206.0" fill="none" stroke="#1c1c1c" stroke-width="1.0" stroke-linejoin="round" stroke-linecap="round" />
<path d="M858.0,82.0 C860.2,87.0 867.7,100.7 871.0,112.0 C874.3,123.3 877.2,137.7 878.0,150.0 C878.8,162.3 877.0,177.7 876.0,186.0 C875.0,194.3 872.7,197.7 872.0,200.0" fill="none" stroke="#191919" stroke-width="2.0" stroke-linejoin="round" stroke-linecap="round" />
<path d="M816.3,60.7 C810.8,60.1 805.6,61.3 800.9,64.3 C796.1,67.3 791.2,72.2 787.8,78.5 C784.4,84.8 781.7,93.2 780.7,102.3 C779.7,111.4 780.7,121.9 781.9,133.0 C783.1,144.1 785.0,156.9 787.8,168.8 C790.6,180.7 794.3,194.5 798.5,204.4 C802.7,214.3 807.6,222.1 812.8,228.0 C817.9,233.9 824.6,238.0 829.4,240.0 C834.1,242.0 836.5,241.6 841.3,240.0 C846.0,238.4 853.1,235.2 857.9,230.5 C862.6,225.8 867.2,219.4 869.8,211.5 C872.4,203.6 873.3,193.3 873.3,183.0 C873.3,172.7 871.8,160.5 869.8,149.8 C867.8,139.1 865.0,129.2 861.4,118.9 C857.8,108.6 852.9,96.5 848.4,88.0 C843.9,79.5 839.5,72.3 834.1,67.8 C828.8,63.2 821.8,61.3 816.3,60.7 Z" fill="#2e2e2e" stroke="#0a0a0a" stroke-width="1.5" stroke-linejoin="round" stroke-linecap="round" />
<ellipse cx="818.7" cy="152" rx="35" ry="89.5" transform="rotate(-10 818.7 152)" fill="url(#iFace)" stroke="#0a0a0a" stroke-width="1.8"/>
<ellipse cx="820.5" cy="152" rx="25.5" ry="65" transform="rotate(-10 820.5 152)" fill="#3c3c3c" stroke="#0a0a0a" stroke-width="2"/>
<ellipse cx="825" cy="152.5" rx="19.5" ry="51" transform="rotate(-10 825 152.5)" fill="#565656" stroke="#0a0a0a" stroke-width="1.3"/>
<ellipse cx="824.3" cy="153" rx="18" ry="49" transform="rotate(-10 824.3 153)" fill="none" stroke="#9a9a9a" stroke-width="0.9" stroke-dasharray="70 200" stroke-dashoffset="-95"/>
<path d="M819.9,120.0 L840.0,139.0 L840.0,180.6 L819.9,160.5 Z" fill="#2a2a2a" stroke="#0a0a0a" stroke-width="1.3" stroke-linejoin="round" stroke-linecap="round" />
<path d="M821.0,157.0 L834.0,153.0 L840.0,180.6 L824.0,163.0 Z" fill="#9a9a9a" stroke="none" stroke-width="1.3" stroke-linejoin="round" stroke-linecap="round" />
<path d="M834.0,153.0 L838.5,141.0 L840.0,180.0 Z" fill="#c9c9c9" stroke="none" stroke-width="1.3" stroke-linejoin="round" stroke-linecap="round" />
<path d="M821.0,157.5 L834.0,153.5" fill="none" stroke="#e0e0e0" stroke-width="1.5" stroke-linejoin="round" stroke-linecap="round" />
<g transform="translate(851,66.5) scale(0.95)"><path d="M-7,-9 L2,-11 L8.5,-6 L9,6 L3,11 L-6,9 Q-10,0 -7,-9 Z" fill="#2b2b2b" stroke="#0a0a0a" stroke-width="1.4" stroke-linejoin="round"/><path d="M2,-10 L8,-5.5 L8.3,5.5 L3,10 L1,0 Z" fill="#9b9b9b"/><path d="M2,-10 L8,-5.5 L3,-2 L-1,-6 Z" fill="#7d7d7d"/><ellipse cx="-3" cy="0" rx="4.2" ry="7.5" fill="#3a3a3a" stroke="#0a0a0a" stroke-width="1.1"/><ellipse cx="-3.3" cy="0" rx="1.8" ry="3.6" fill="#1a1a1a"/></g>
<g transform="translate(898,116) scale(0.95)"><path d="M-7,-9 L2,-11 L8.5,-6 L9,6 L3,11 L-6,9 Q-10,0 -7,-9 Z" fill="#2b2b2b" stroke="#0a0a0a" stroke-width="1.4" stroke-linejoin="round"/><path d="M2,-10 L8,-5.5 L8.3,5.5 L3,10 L1,0 Z" fill="#9b9b9b"/><path d="M2,-10 L8,-5.5 L3,-2 L-1,-6 Z" fill="#7d7d7d"/><ellipse cx="-3" cy="0" rx="4.2" ry="7.5" fill="#3a3a3a" stroke="#0a0a0a" stroke-width="1.1"/><ellipse cx="-3.3" cy="0" rx="1.8" ry="3.6" fill="#1a1a1a"/></g>
<g transform="translate(899,214) scale(0.85)"><path d="M-7,-9 L2,-11 L8.5,-6 L9,6 L3,11 L-6,9 Q-10,0 -7,-9 Z" fill="#2b2b2b" stroke="#0a0a0a" stroke-width="1.4" stroke-linejoin="round"/><path d="M2,-10 L8,-5.5 L8.3,5.5 L3,10 L1,0 Z" fill="#9b9b9b"/><path d="M2,-10 L8,-5.5 L3,-2 L-1,-6 Z" fill="#7d7d7d"/><ellipse cx="-3" cy="0" rx="4.2" ry="7.5" fill="#3a3a3a" stroke="#0a0a0a" stroke-width="1.1"/><ellipse cx="-3.3" cy="0" rx="1.8" ry="3.6" fill="#1a1a1a"/></g>
<path d="M1019.5,79 Q1026,82 1027,90 Q1027,96 1022,98 Z" fill="#4a4a4a" stroke="#0a0a0a" stroke-width="1.2" stroke-linejoin="round" stroke-linecap="round" />
<path d="M1021.5,84 Q1025.5,86 1025.5,91 L1022.5,93 Z" fill="#e5e5e5" stroke="none" stroke-width="1.3" stroke-linejoin="round" stroke-linecap="round" />
<path d="M1021.5,177 Q1027,180 1027.3,187 Q1027,193 1022.5,195 Z" fill="#4a4a4a" stroke="#0a0a0a" stroke-width="1.2" stroke-linejoin="round" stroke-linecap="round" />
<path d="M1022.5,181 L1025.5,184 L1025.5,189 L1023,190 Z" fill="#9a9a9a" stroke="none" stroke-width="1.3" stroke-linejoin="round" stroke-linecap="round" />
<path d="M972,28.5 L977.5,32 L976,35.5 Z" fill="#cfcfcf" stroke="#0a0a0a" stroke-width="1" stroke-linejoin="round" stroke-linecap="round" />
</g>

<g id="dims">
<line class="dl" x1="82.6" y1="132.0" x2="616.7" y2="132.0"/>
<polygon class="ah" points="82.6,132.0 99.1,128.9 99.1,135.1"/>
<polygon class="ah" points="616.7,132.0 600.2,135.1 600.2,128.9"/>
<line class="dl" x1="82.6" y1="395.0" x2="82.6" y2="124.0"/>
<line class="dl" x1="616.7" y1="328.0" x2="616.7" y2="124.0"/>
<text class="dt" x="350" y="128.3" text-anchor="middle"><tspan font-size="19" dy="-1.5">(</tspan><tspan dy="1.5" dx="1.5">230</tspan><tspan font-size="19" dy="-1.5" dx="1.5">)</tspan></text>
<line class="dl" x1="140.8" y1="172.5" x2="559.5" y2="172.5"/>
<polygon class="ah" points="140.8,172.5 157.3,169.4 157.3,175.6"/>
<polygon class="ah" points="559.5,172.5 543.0,175.6 543.0,169.4"/>
<line class="dl" x1="140.8" y1="423.0" x2="140.8" y2="164.5"/>
<line class="dl" x1="559.5" y1="423.0" x2="559.5" y2="164.5"/>
<text class="dt" x="351.0" y="168.6" text-anchor="middle">180</text>
<line class="dl" x1="173.7" y1="214.0" x2="526.7" y2="214.0"/>
<polygon class="ah" points="173.7,214.0 190.2,210.9 190.2,217.1"/>
<polygon class="ah" points="526.7,214.0 510.2,217.1 510.2,210.9"/>
<line class="dl" x1="173.7" y1="385.0" x2="173.7" y2="206.0"/>
<line class="dl" x1="526.7" y1="385.0" x2="526.7" y2="206.0"/>
<text class="dt" x="351.0" y="210.3" text-anchor="middle">152</text>
<line class="dl" x1="222.5" y1="255.0" x2="478.0" y2="255.0"/>
<polygon class="ah" points="222.5,255.0 239.0,251.9 239.0,258.1"/>
<polygon class="ah" points="478.0,255.0 461.5,258.1 461.5,251.9"/>
<line class="dl" x1="222.5" y1="348.0" x2="222.5" y2="247.0"/>
<line class="dl" x1="478.0" y1="348.0" x2="478.0" y2="247.0"/>
<text class="dt" x="351.0" y="251.3" text-anchor="middle">110</text>
<line class="dl" x1="82.5" y1="727.5" x2="164.5" y2="727.5"/>
<polygon class="ah" points="82.5,727.5 99.0,724.4 99.0,730.6"/>
<polygon class="ah" points="164.5,727.5 148.0,730.6 148.0,724.4"/>
<line class="dl" x1="82.5" y1="628.0" x2="82.5" y2="735.5"/>
<line class="dl" x1="164.5" y1="640.0" x2="164.5" y2="735.5"/>
<text class="dt" x="123.8" y="723.2" text-anchor="middle">35</text>
<line class="dl" x1="535.5" y1="727.5" x2="616.5" y2="727.5"/>
<polygon class="ah" points="535.5,727.5 552.0,724.4 552.0,730.6"/>
<polygon class="ah" points="616.5,727.5 600.0,730.6 600.0,724.4"/>
<line class="dl" x1="535.5" y1="637.0" x2="535.5" y2="735.5"/>
<line class="dl" x1="616.5" y1="694.0" x2="616.5" y2="735.5"/>
<text class="dt" x="576.7" y="722.6" text-anchor="middle">35</text>
<line class="dl" x1="291.5" y1="800.5" x2="408.5" y2="800.5"/>
<polygon class="ah" points="291.5,800.5 308.0,797.4 308.0,803.6"/>
<polygon class="ah" points="408.5,800.5 392.0,803.6 392.0,797.4"/>
<line class="dl" x1="291.5" y1="735.0" x2="291.5" y2="808.5"/>
<line class="dl" x1="408.5" y1="735.0" x2="408.5" y2="808.5"/>
<text class="dt" x="350.3" y="796.4" text-anchor="middle">50</text>
<line class="dl" x1="262.5" y1="293.0" x2="262.5" y2="768.0"/>
<polygon class="ah" points="262.5,323.0 259.4,306.5 265.6,306.5"/>
<polygon class="ah" points="262.5,699.5 265.6,716.0 259.4,716.0"/>
<line class="dl" x1="255.0" y1="323.5" x2="390.0" y2="323.5"/>
<line class="dl" x1="255.0" y1="699.5" x2="391.0" y2="699.5"/>
<text class="dt" transform="translate(259.3,742.7) rotate(-90)" text-anchor="middle" >162</text>
<line class="cl" x1="350.5" y1="283.0" x2="350.5" y2="742.0"/>
<line class="dl" x1="329.1" y1="688.4" x2="514.5" y2="783.7"/>
<polygon class="ah" points="327.7,687.7 342.4,692.0 339.7,697.2"/>
<polygon class="ah" points="373.1,711.1 358.4,706.8 361.1,701.6"/>
<g transform="translate(350.4,699.4) rotate(27.2)"><circle cx="87.5" cy="-11.8" r="6.3" fill="none" stroke="#00007a" stroke-width="1.7"/><line x1="82" y1="-1.5" x2="93" y2="-22" stroke="#00007a" stroke-width="1.7"/><text class="dt" x="106" y="-3.5">22</text><text class="dt" x="142" y="-3.5" font-style="italic">(2x)</text></g>
<line class="cl" x1="68.0" y1="511.5" x2="633.0" y2="511.5"/>
<line class="dl" x1="30.5" y1="351.0" x2="30.5" y2="512.0"/>
<polygon class="ah" points="30.5,351.0 33.6,367.5 27.4,367.5"/>
<line class="dl" x1="22.0" y1="351.5" x2="90.0" y2="351.5"/>
<text class="dt" transform="translate(27.3,516.5) rotate(-90)" text-anchor="start" >138</text><circle cx="17.3" cy="534.2" r="6.3" fill="none" stroke="#00007a" stroke-width="1.7"/><line x1="6.7" y1="531.4" x2="27.9" y2="537.0" stroke="#00007a" stroke-width="1.7"/>
<line class="dl" x1="61.5" y1="424.0" x2="61.5" y2="512.0"/>
<polygon class="ah" points="61.5,424.0 64.6,440.5 58.4,440.5"/>
<line class="dl" x1="55.0" y1="424.5" x2="141.0" y2="424.5"/>
<text class="dt" transform="translate(58.3,510.0) rotate(-90)" text-anchor="start" >75</text><circle cx="48.1" cy="528.3" r="6.3" fill="none" stroke="#00007a" stroke-width="1.7"/><line x1="37.5" y1="525.5" x2="58.7" y2="531.1" stroke="#00007a" stroke-width="1.7"/>
<line class="dl" x1="662.5" y1="424.0" x2="662.5" y2="512.0"/>
<polygon class="ah" points="662.5,424.0 665.6,440.5 659.4,440.5"/>
<line class="dl" x1="559.0" y1="424.5" x2="670.0" y2="424.5"/>
<text class="dt" transform="translate(660.0,510.0) rotate(-90)" text-anchor="start" >75</text><circle cx="649.8" cy="527.6" r="6.3" fill="none" stroke="#00007a" stroke-width="1.7"/><line x1="639.2" y1="524.8" x2="660.4" y2="530.4" stroke="#00007a" stroke-width="1.7"/>
<line class="dl" x1="692.5" y1="328.0" x2="692.5" y2="512.0"/>
<polygon class="ah" points="692.5,328.0 695.6,344.5 689.4,344.5"/>
<line class="dl" x1="617.0" y1="328.5" x2="700.0" y2="328.5"/>
<text class="dt" transform="translate(690.0,514.0) rotate(-90)" text-anchor="start" >158</text><circle cx="679.8" cy="533.2" r="6.3" fill="none" stroke="#00007a" stroke-width="1.7"/><line x1="669.2" y1="530.4" x2="690.4" y2="536.0" stroke="#00007a" stroke-width="1.7"/>
<polyline class="dl" points="657,607.5 640,607.5 726,523.5"/>
<polygon class="ah" points="726.0,523.5 718.0,535.3 713.9,531.2"/>
<text x="662" y="613.5" font-size="16.45" fill="#00007a">Kalamitka M8x1</text>
<line class="dl" x1="1178.5" y1="272.5" x2="1178.5" y2="748.5"/>
<polygon class="ah" points="1178.5,272.5 1181.6,289.0 1175.4,289.0"/>
<polygon class="ah" points="1178.5,748.5 1175.4,732.0 1181.6,732.0"/>
<line class="dl" x1="995.0" y1="272.5" x2="1187.0" y2="272.5"/>
<line class="dl" x1="995.0" y1="748.5" x2="1187.0" y2="748.5"/>
<text class="dt" transform="translate(1175.0,511.0) rotate(-90)" text-anchor="middle" >205</text>
<line class="dl" x1="785.5" y1="800.5" x2="994.5" y2="800.5"/>
<polygon class="ah" points="785.5,800.5 802.0,797.4 802.0,803.6"/>
<polygon class="ah" points="994.5,800.5 978.0,803.6 978.0,797.4"/>
<line class="dl" x1="785.5" y1="749.0" x2="785.5" y2="808.5"/>
<line class="dl" x1="994.5" y1="749.0" x2="994.5" y2="808.5"/>
<text class="dt" x="890.0" y="797.0" text-anchor="middle">90</text>
<line class="dl" x1="907.5" y1="444.5" x2="1003.5" y2="444.5"/>
<polygon class="ah" points="907.5,444.5 923.0,441.6 923.0,447.4"/>
<polygon class="ah" points="1003.5,444.5 988.0,447.4 988.0,441.6"/>
<line class="dl" x1="907.5" y1="436.0" x2="907.5" y2="463.0"/>
<line class="dl" x1="1003.5" y1="436.0" x2="1003.5" y2="463.0"/>
<text class="dt" x="970.6" y="440" text-anchor="middle">41</text>
<line class="dl" x1="1033.5" y1="463.5" x2="1033.5" y2="558.5"/>
<polygon class="ah" points="1033.5,463.5 1036.4,479.0 1030.6,479.0"/>
<polygon class="ah" points="1033.5,558.5 1030.6,543.0 1036.4,543.0"/>
<line class="dl" x1="1003.0" y1="463.5" x2="1040.5" y2="463.5"/>
<line class="dl" x1="1003.0" y1="558.5" x2="1040.5" y2="558.5"/>
<text class="dt" transform="translate(1029.2,495.5) rotate(-90)" text-anchor="middle" >41</text>
<line class="cl" x1="955.5" y1="320.0" x2="955.5" y2="702.0"/>
<line class="cl" x1="727.0" y1="511.5" x2="1152.0" y2="511.5"/>
</g>

<g id="logo">
<text transform="translate(537.79,430.20) scale(0.2523,0.2870)" font-size="100" font-weight="bold" fill="#000" stroke="#000" stroke-width="11.13" stroke-linejoin="miter">R</text>
<text transform="translate(561.29,429.92) scale(0.3029,0.2789)" font-size="100" font-weight="bold" fill="#000" stroke="#000" stroke-width="10.31" stroke-linejoin="miter">O</text>
<text transform="translate(590.14,430.20) scale(0.2604,0.2870)" font-size="100" font-weight="bold" fill="#000" stroke="#000" stroke-width="10.96" stroke-linejoin="miter">L</text>
<text transform="translate(613.10,430.20) scale(0.3169,0.2870)" font-size="100" font-weight="bold" fill="#000" stroke="#000" stroke-width="9.94" stroke-linejoin="miter">M</text>
<text transform="translate(644.31,430.20) scale(0.2941,0.2870)" font-size="100" font-weight="bold" fill="#000" stroke="#000" stroke-width="10.33" stroke-linejoin="miter">A</text>
<text transform="translate(667.65,430.20) scale(0.3077,0.2870)" font-size="100" font-weight="bold" fill="#000" stroke="#000" stroke-width="10.09" stroke-linejoin="miter">R</text>
<rect x="499" y="407" width="27" height="25.6" fill="#000"/>
<path d="M498,413 L520.2,413" stroke="#fff" stroke-width="1.6" fill="none"/>
<path d="M520.2,413 L520.2,420.6 L504,420.6 L504,428.6" stroke="#8a8a8a" stroke-width="1.1" fill="none"/>
<path d="M504,428.6 L526,428.6" stroke="#c8c8c8" stroke-width="1.2" fill="none"/>
</g>

</svg>
</body></html>
